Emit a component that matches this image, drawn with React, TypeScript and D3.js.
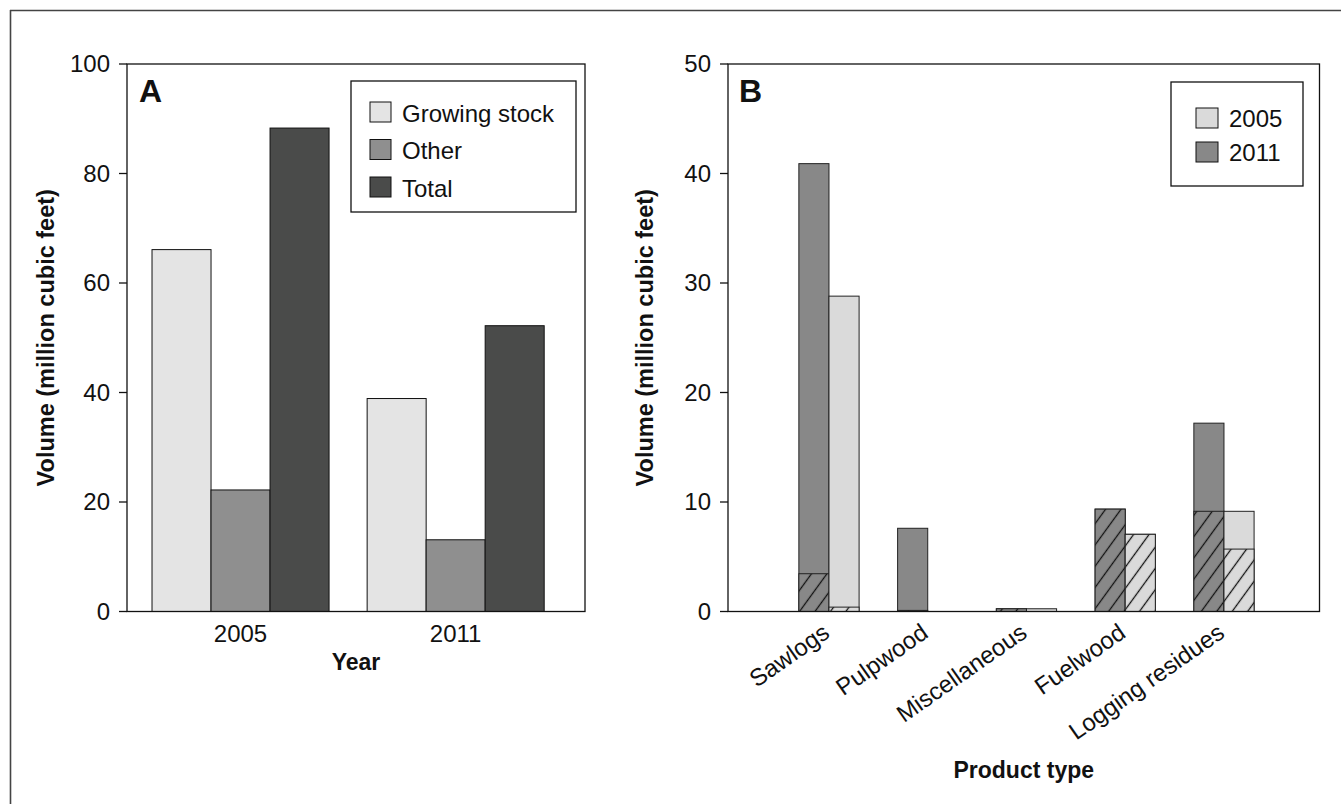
import React from 'react';
import * as d3 from 'd3';

// Panel A: harvest removals by year
const yearsA = ['2005', '2011'];
const seriesA = ['Growing stock', 'Other', 'Total'];
const growingStock = [66.1, 38.9];
const otherRemovals = [22.2, 13.1];
const totalRemovals = [88.3, 52.2];
const yTicksA = [0, 20, 40, 60, 80, 100];

// Panel B: volume by product type (hatched part stacked at the bottom)
const products = ['Sawlogs', 'Pulpwood', 'Miscellaneous', 'Fuelwood', 'Logging residues'];
const barYearsB = ['2011', '2005'];
const legendYearsB = ['2005', '2011'];
const total2011 = [40.9, 7.6, 0.25, 9.35, 17.2];
const hatched2011 = [3.45, 0.1, 0.25, 9.35, 9.15];
const total2005 = [28.8, 0, 0.25, 7.05, 9.15];
const hatched2005 = [0.4, 0, 0, 7.05, 5.7];
const yTicksB = [0, 10, 20, 30, 40, 50];

const FONT = 'Liberation Sans, Arial, Helvetica, sans-serif';
const colorsA = ['#e4e4e4', '#8f8f8f', '#4a4b4a'];
const colorB: Record<string, string> = { '2005': '#dadada', '2011': '#888888' };

export default function App() {
  // Panel A geometry
  const a = { left: 127, right: 585, top: 64, bottom: 611.5 };
  const yA = d3.scaleLinear().domain([0, 100]).range([a.bottom, a.top]);
  const xA = d3
    .scaleBand<string>()
    .domain(yearsA)
    .range([a.left, a.right])
    .paddingInner(0.177)
    .paddingOuter(0.153)
    .align(0.38);
  const xAInner = d3.scaleBand<string>().domain(seriesA).range([0, xA.bandwidth()]);
  const valuesA = [growingStock, otherRemovals, totalRemovals];

  // Panel B geometry
  const b = { left: 728, right: 1319.5, top: 64, bottom: 611.5 };
  const yB = d3.scaleLinear().domain([0, 50]).range([b.bottom, b.top]);
  const xB = d3
    .scaleBand<string>()
    .domain(products)
    .range([b.left, b.right])
    .paddingInner(0.39)
    .paddingOuter(0.69)
    .align(0.52);
  const xBInner = d3.scaleBand<string>().domain(barYearsB).range([0, xB.bandwidth()]);
  const totalsB: Record<string, number[]> = { '2011': total2011, '2005': total2005 };
  const hatchedB: Record<string, number[]> = { '2011': hatched2011, '2005': hatched2005 };

  const tickFont = 24;

  return (
    <svg
      width={1341}
      height={804}
      style={{ position: 'absolute', left: 0, top: 0, background: '#fff' }}
      fontFamily={FONT}
    >
      <defs>
        <pattern
          id="hatch"
          patternUnits="userSpaceOnUse"
          width={10}
          height={12.5}
          patternTransform="rotate(-54)"
        >
          <line x1={-1} y1={6.25} x2={11} y2={6.25} stroke="#111" strokeWidth={1.3} />
        </pattern>
      </defs>
      <rect x={0} y={0} width={1341} height={804} fill="#fff" />

      {/* outer frame: top and left edges */}
      <line x1={10} y1={10.5} x2={1341} y2={10.5} stroke="#444" strokeWidth={1.6} />
      <line x1={10.5} y1={10} x2={10.5} y2={804} stroke="#444" strokeWidth={1.6} />

      {/* ===== Panel A ===== */}
      <g>
        {yearsA.map((yr, i) =>
          seriesA.map((s, j) => {
            const v = valuesA[j][i];
            const x = (xA(yr) as number) + (xAInner(s) as number);
            return (
              <rect
                key={yr + s}
                x={x}
                y={yA(v)}
                width={xAInner.bandwidth()}
                height={yA(0) - yA(v)}
                fill={colorsA[j]}
                stroke="#111"
                strokeWidth={1}
              />
            );
          })
        )}
        <rect
          x={a.left}
          y={a.top}
          width={a.right - a.left}
          height={a.bottom - a.top}
          fill="none"
          stroke="#111"
          strokeWidth={1.3}
        />
        {yTicksA.map((t) => (
          <g key={t}>
            <line x1={a.left - 8} x2={a.left} y1={yA(t)} y2={yA(t)} stroke="#111" strokeWidth={1.3} />
            <text x={a.left - 17} y={yA(t)} dy="0.35em" textAnchor="end" fontSize={tickFont} fill="#111">
              {t}
            </text>
          </g>
        ))}
        {yearsA.map((yr) => (
          <text
            key={yr}
            x={(xA(yr) as number) + xA.bandwidth() / 2}
            y={642}
            textAnchor="middle"
            fontSize={tickFont}
            fill="#111"
          >
            {yr}
          </text>
        ))}
        <text x={(a.left + a.right) / 2} y={670} textAnchor="middle" fontSize={23} fontWeight="bold" fill="#111">
          Year
        </text>
        <text
          transform={`translate(54,${(a.top + a.bottom) / 2}) rotate(-90)`}
          textAnchor="middle"
          fontSize={23.5}
          fontWeight="bold"
          fill="#111"
        >
          Volume (million cubic feet)
        </text>
        <text x={139} y={102} fontSize={32} fontWeight="bold" fill="#111">
          A
        </text>
        {/* legend A */}
        <rect x={351} y={81} width={225} height={131} fill="#fff" stroke="#111" strokeWidth={1.3} />
        {seriesA.map((s, j) => (
          <g key={s} transform={`translate(370,${102 + j * 37.5})`}>
            <rect x={0} y={0} width={21} height={20} fill={colorsA[j]} stroke="#111" strokeWidth={1} />
            <text x={32} y={19.5} fontSize={tickFont} fill="#111">
              {s}
            </text>
          </g>
        ))}
      </g>

      {/* ===== Panel B ===== */}
      <g>
        {products.map((p, i) =>
          barYearsB.map((yr) => {
            const tot = totalsB[yr][i];
            const hat = hatchedB[yr][i];
            if (tot <= 0) return null;
            const x = (xB(p) as number) + (xBInner(yr) as number);
            const w = xBInner.bandwidth();
            return (
              <g key={p + yr}>
                <rect
                  x={x}
                  y={yB(tot)}
                  width={w}
                  height={yB(0) - yB(tot)}
                  fill={colorB[yr]}
                  stroke="#222"
                  strokeWidth={1}
                />
                {hat > 0 && (
                  <>
                    <rect x={x} y={yB(hat)} width={w} height={yB(0) - yB(hat)} fill={colorB[yr]} />
                    <rect
                      x={x}
                      y={yB(hat)}
                      width={w}
                      height={yB(0) - yB(hat)}
                      fill="url(#hatch)"
                      stroke="#222"
                      strokeWidth={1}
                    />
                  </>
                )}
              </g>
            );
          })
        )}
        <rect
          x={b.left}
          y={b.top}
          width={b.right - b.left}
          height={b.bottom - b.top}
          fill="none"
          stroke="#111"
          strokeWidth={1.3}
        />
        {yTicksB.map((t) => (
          <g key={t}>
            <line x1={b.left - 8} x2={b.left} y1={yB(t)} y2={yB(t)} stroke="#111" strokeWidth={1.3} />
            <text x={b.left - 17} y={yB(t)} dy="0.35em" textAnchor="end" fontSize={tickFont} fill="#111">
              {t}
            </text>
          </g>
        ))}
        {products.map((p) => (
          <text
            key={p}
            transform={`translate(${(xB(p) as number) + xB.bandwidth() / 2 + 2},636) rotate(-35)`}
            textAnchor="end"
            fontSize={tickFont}
            fill="#111"
          >
            {p}
          </text>
        ))}
        <text x={(b.left + b.right) / 2} y={778} textAnchor="middle" fontSize={23} fontWeight="bold" fill="#111">
          Product type
        </text>
        <text
          transform={`translate(653,${(b.top + b.bottom) / 2}) rotate(-90)`}
          textAnchor="middle"
          fontSize={23.5}
          fontWeight="bold"
          fill="#111"
        >
          Volume (million cubic feet)
        </text>
        <text x={739} y={102} fontSize={32} fontWeight="bold" fill="#111">
          B
        </text>
        {/* legend B */}
        <rect x={1171} y={82} width={132} height={104} fill="#fff" stroke="#111" strokeWidth={1.3} />
        {legendYearsB.map((yr, j) => (
          <g key={yr} transform={`translate(1196,${108 + j * 34})`}>
            <rect x={0} y={0} width={22} height={20} fill={colorB[yr]} stroke="#111" strokeWidth={1} />
            <text x={33} y={19} fontSize={tickFont} fill="#111">
              {yr}
            </text>
          </g>
        ))}
      </g>
    </svg>
  );
}
